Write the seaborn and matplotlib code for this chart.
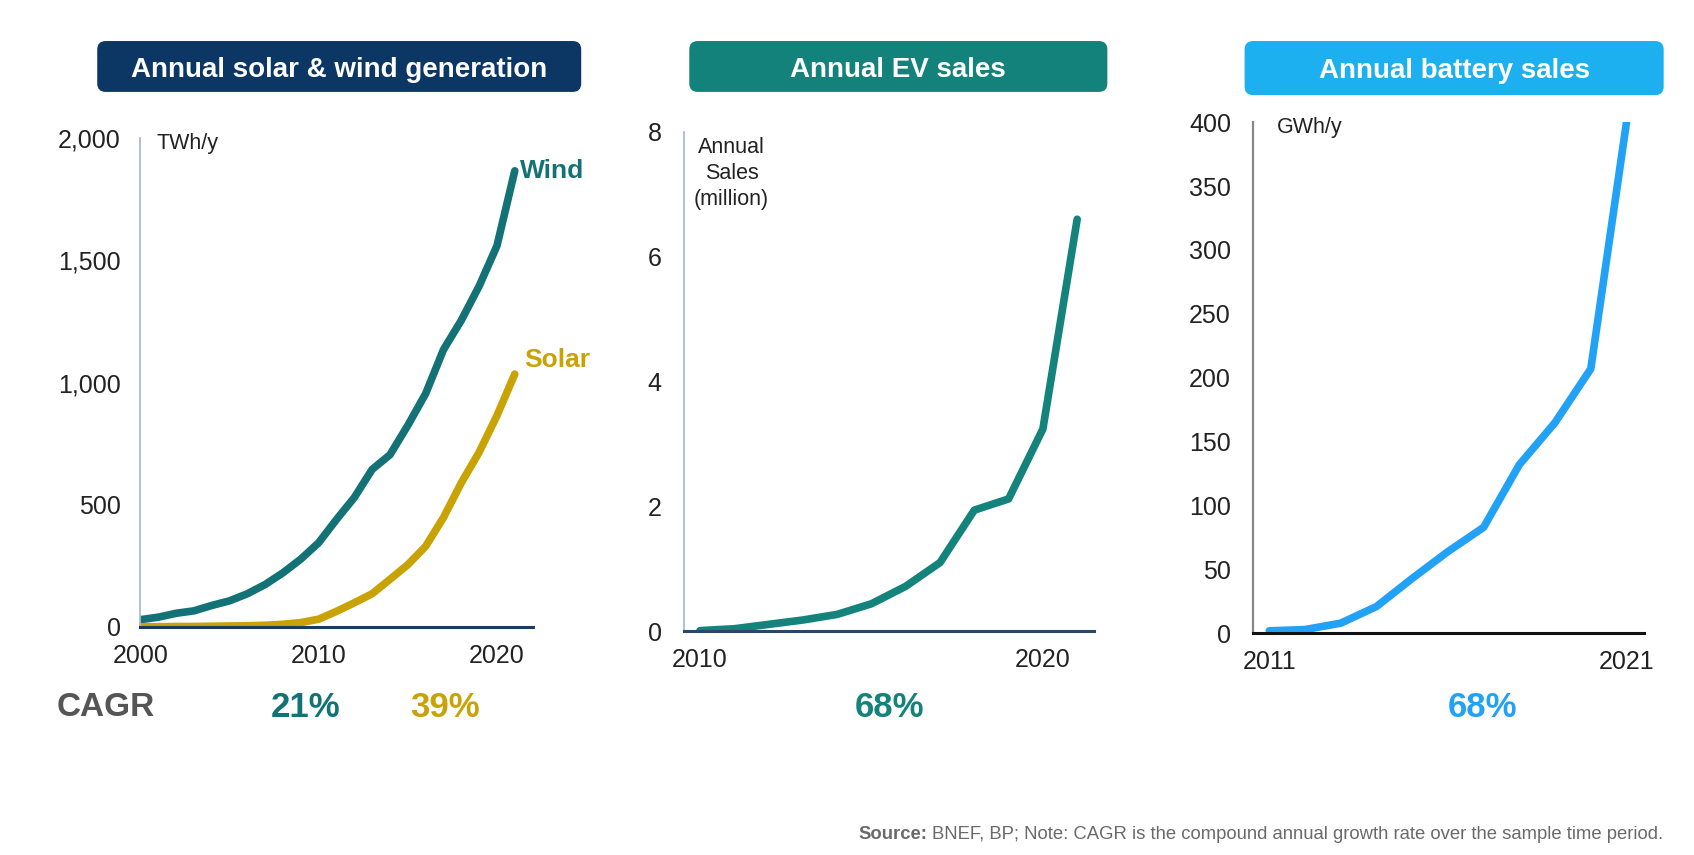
import numpy as np
import seaborn as sns
import matplotlib.pyplot as plt
from matplotlib.patches import FancyBboxPatch
from matplotlib.ticker import StrMethodFormatter

sns.set_style("white")
plt.rcParams['font.family'] = ['Liberation Sans', 'DejaVu Sans']

# data
gen_years = list(range(2000, 2022))
wind_twh = [30, 40, 56, 66, 88, 107, 136, 174, 222, 278, 345, 440, 530, 645, 705,
            825, 955, 1135, 1255, 1395, 1560, 1867]
solar_twh = [1, 1, 2, 2, 3, 4, 5, 7, 11, 18, 32, 64, 99, 136, 195,
             255, 330, 448, 590, 715, 865, 1035]

ev_years = list(range(2010, 2022))
ev_sales = [0.01, 0.04, 0.11, 0.18, 0.27, 0.44, 0.72, 1.1, 1.94, 2.12, 3.24, 6.6]

bat_years = list(range(2011, 2022))
bat_gwh = [2, 3, 8, 21, 43, 64, 83, 132, 165, 207, 400]

titles = ["Annual solar & wind generation", "Annual EV sales", "Annual battery sales"]
title_colors = ["#0c3664", "#12827a", "#1cb0f0"]

wind_col = "#137275"
solar_col = "#c9a204"
ev_col = "#13837b"
bat_col = "#22a2f6"
tick_col = "#222222"

fig = plt.figure(figsize=(16.94, 8.55), dpi=100)
fig.patch.set_facecolor("white")

ax1 = fig.add_axes([0.0829, 0.2667, 0.2315, 0.5715])
ax2 = fig.add_axes([0.4037, 0.2617, 0.2423, 0.5841])
ax3 = fig.add_axes([0.7398, 0.2592, 0.2309, 0.5979])

lw = 5.5

# left: solar & wind
sns.lineplot(x=gen_years, y=wind_twh, ax=ax1, color=wind_col, linewidth=lw, solid_capstyle="round")
sns.lineplot(x=gen_years, y=solar_twh, ax=ax1, color=solar_col, linewidth=lw, solid_capstyle="round")
ax1.set_xlim(2000, 2022)
ax1.set_ylim(0, 2000)
ax1.set_xticks([2000, 2010, 2020])
ax1.set_yticks([0, 500, 1000, 1500, 2000])
ax1.yaxis.set_major_formatter(StrMethodFormatter("{x:,.0f}"))
ax1.annotate("Wind", (gen_years[-1], wind_twh[-1]), xytext=(4, 0), textcoords="offset points",
             color=wind_col, fontsize=19, fontweight="bold", va="center", ha="left")
ax1.annotate("Solar", (gen_years[-1], solar_twh[-1]), xytext=(7, 10), textcoords="offset points",
             color=solar_col, fontsize=19, fontweight="bold", va="center", ha="left")
ax1.text(0.041, 0.99, "TWh/y", transform=ax1.transAxes, fontsize=15.5, va="center", ha="left", color=tick_col)

# middle: EV sales
sns.lineplot(x=ev_years, y=ev_sales, ax=ax2, color=ev_col, linewidth=lw, solid_capstyle="round")
ax2.set_xlim(2009.53, 2021.5)
ax2.set_ylim(0, 8)
ax2.set_xticks([2010, 2020])
ax2.set_yticks([0, 2, 4, 6, 8])
ax2.text(0.116, 0.99, "Annual\nSales\n(million)", transform=ax2.transAxes, fontsize=15.5,
         va="top", ha="center", linespacing=1.32, color=tick_col)

# right: battery sales
sns.lineplot(x=bat_years, y=bat_gwh, ax=ax3, color=bat_col, linewidth=lw, solid_capstyle="round")
ax3.set_xlim(2010.55, 2021.5)
ax3.set_ylim(0, 400)
ax3.set_xticks([2011, 2021])
ax3.set_yticks(list(range(0, 401, 50)))
ax3.text(0.061, 0.989, "GWh/y", transform=ax3.transAxes, fontsize=15.5, va="center", ha="left", color=tick_col)

for ax, lcol, bcol, llw, ypad in [(ax1, "#a9bccf", "#1f3a60", 1.3, 14),
                                   (ax2, "#a9bccf", "#2a4668", 1.3, 16),
                                   (ax3, "#888888", "#111111", 1.6, 16)]:
    for s in ["top", "right"]:
        ax.spines[s].set_visible(False)
    ax.spines["left"].set_color(lcol)
    ax.spines["left"].set_linewidth(llw)
    ax.spines["bottom"].set_color(bcol)
    ax.spines["bottom"].set_linewidth(2.2)
    ax.set_xlabel("")
    ax.set_ylabel("")
    ax.tick_params(axis="y", length=0, pad=ypad, labelsize=18, labelcolor=tick_col)
    ax.tick_params(axis="x", length=0, pad=12, labelsize=18, labelcolor=tick_col)
    ax.grid(False)
    ax.set_facecolor("none")

# title boxes
boxes = [(0.0574, 0.8925, 0.2857, 0.0595),
         (0.4069, 0.8925, 0.2468, 0.0595),
         (0.7347, 0.8888, 0.2474, 0.0632)]
for (bx, by, bw, bh), t, c in zip(boxes, titles, title_colors):
    fig.patches.append(FancyBboxPatch((bx, by), bw, bh, boxstyle="round,pad=0,rounding_size=0.005",
                                      mutation_aspect=1694 / 855, transform=fig.transFigure,
                                      facecolor=c, edgecolor="none"))
    fig.text(bx + bw / 2, by + bh / 2 - 0.004, t, color="white", fontsize=20, fontweight="bold",
             ha="center", va="center")

# CAGR row
fig.text(0.0332, 0.172, "CAGR", color="#555555", fontsize=24, fontweight="bold", ha="left", va="center")
fig.text(0.1805, 0.172, "21%", color=wind_col, fontsize=25, fontweight="bold", ha="center", va="center")
fig.text(0.2628, 0.172, "39%", color=solar_col, fontsize=25, fontweight="bold", ha="center", va="center")
fig.text(0.5249, 0.172, "68%", color=ev_col, fontsize=25, fontweight="bold", ha="center", va="center")
fig.text(0.8750, 0.172, "68%", color=bat_col, fontsize=25, fontweight="bold", ha="center", va="center")

# source note
note = fig.text(0.982, 0.024, "BNEF, BP; Note: CAGR is the compound annual growth rate over the sample time period.",
                color="#6a6a6a", fontsize=13.3, ha="right", va="center")
fig.canvas.draw()
bb = note.get_window_extent().transformed(fig.transFigure.inverted())
fig.text(bb.x0 - 0.003, 0.024, "Source:", color="#6a6a6a", fontsize=13.3, fontweight="bold", ha="right", va="center")

fig.savefig("out.png", dpi=100)
